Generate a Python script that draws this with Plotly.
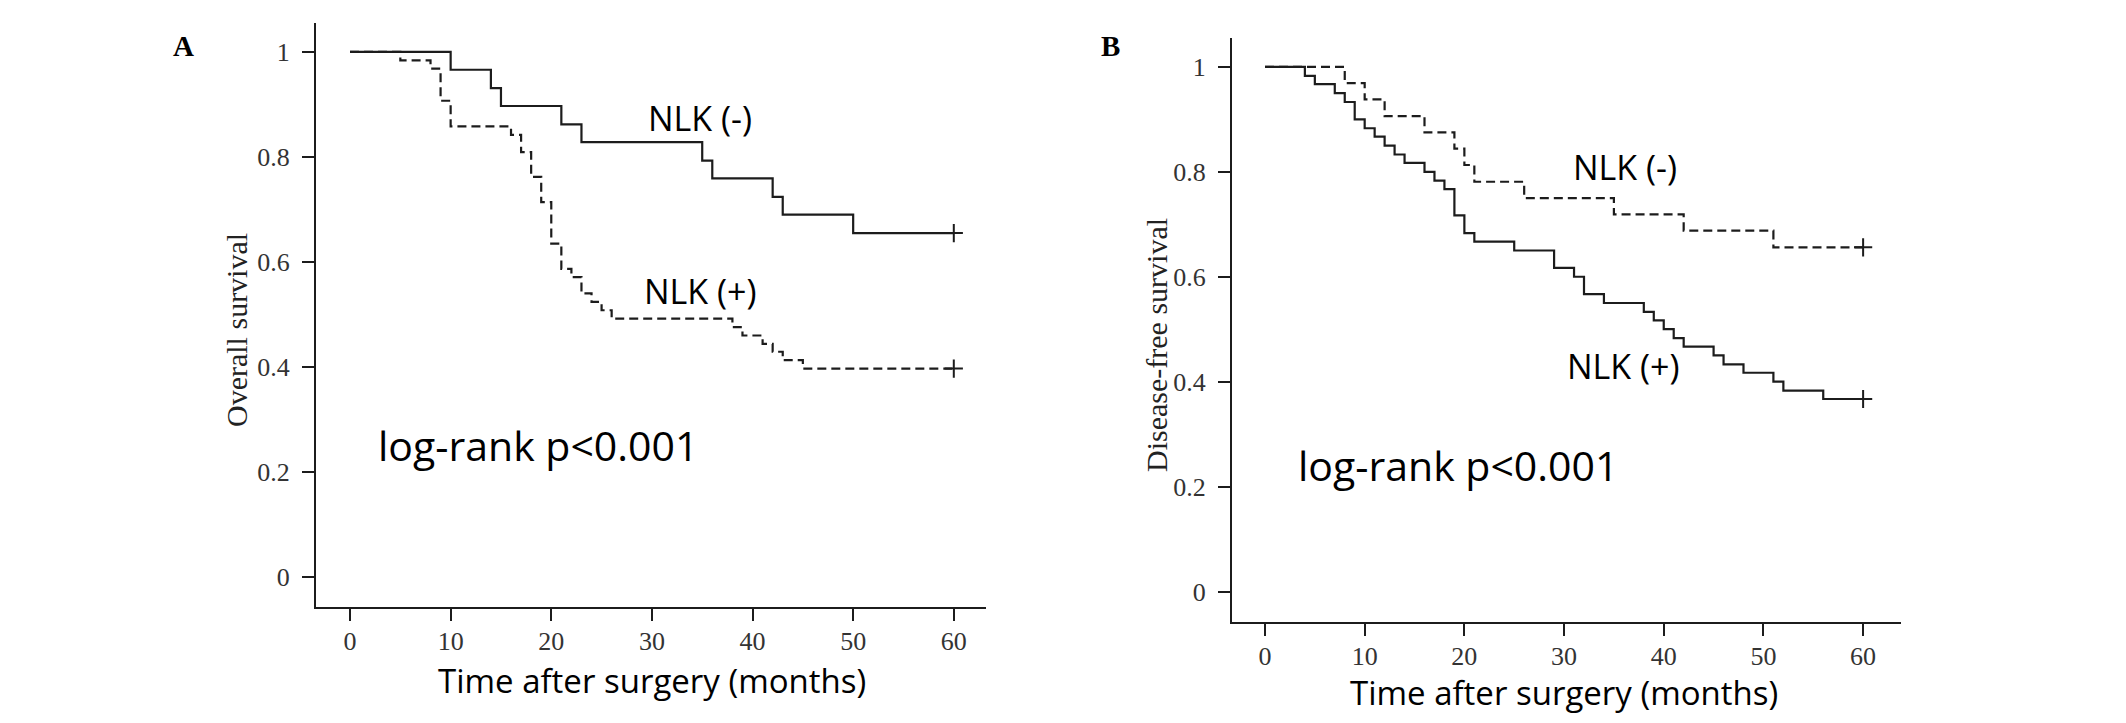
import plotly.graph_objects as go

# Panel A - overall survival (months, survival after each drop)
a_neg_t = [10, 14, 15, 21, 23, 35, 36, 42, 43, 50]
a_neg_s = [0.966, 0.931, 0.897, 0.862, 0.828, 0.793, 0.759, 0.724, 0.690, 0.655]
a_pos_t = [5, 8, 9, 10, 16, 17, 18, 19, 20, 21, 22, 23, 24, 25, 26, 38, 39, 41, 42, 43, 45]
a_pos_s = [0.984, 0.968, 0.907, 0.858, 0.842, 0.809, 0.762, 0.714, 0.635, 0.587, 0.571,
           0.540, 0.524, 0.508, 0.492, 0.476, 0.460, 0.444, 0.429, 0.413, 0.397]

# Panel B - disease-free survival
b_neg_t = [8, 10, 12, 16, 19, 20, 21, 26, 35, 42, 51]
b_neg_s = [0.969, 0.938, 0.906, 0.875, 0.844, 0.813, 0.781, 0.750, 0.719, 0.688, 0.656]
b_pos_t = [4, 5, 7, 8, 9, 10, 11, 12, 13, 14, 16, 17, 18, 19, 20, 21, 25, 29, 31, 32, 34,
           38, 39, 40, 41, 42, 45, 46, 48, 51, 52, 56]
b_pos_s = [0.983, 0.967, 0.950, 0.933, 0.900, 0.883, 0.867, 0.850, 0.833, 0.817, 0.800,
           0.783, 0.767, 0.717, 0.683, 0.667, 0.650, 0.617, 0.600, 0.567, 0.550, 0.533,
           0.517, 0.500, 0.483, 0.467, 0.450, 0.433, 0.417, 0.400, 0.383, 0.367]

follow_up = 60
x_ticks = [0, 10, 20, 30, 40, 50, 60]
y_ticks = [0, 0.2, 0.4, 0.6, 0.8, 1]
y_labels = ["0", "0.2", "0.4", "0.6", "0.8", "1"]

# page body has an 8px margin, so the figure is a bit smaller and everything is offset
OFF = 8
W, H = 2126 - 2 * OFF, 723 - 2 * OFF
INK = "#1c1c1c"
SERIF = "Liberation Serif"
SANS = "Open Sans"


def px(x):
    return (x - OFF) / W


def py(y):
    return 1 - (y - OFF) / H


def km_trace(times, surv, dash, xa, ya):
    xs = [0] + times + [follow_up]
    ys = [1] + surv + [surv[-1]]
    return go.Scatter(x=xs, y=ys, mode="lines", line_shape="hv", xaxis=xa, yaxis=ya,
                      line=dict(color=INK, width=2.2, dash=dash), hoverinfo="skip")


def censor(surv, xa, ya):
    return go.Scatter(x=[follow_up], y=[surv[-1]], mode="markers", xaxis=xa, yaxis=ya,
                      marker=dict(symbol="cross-thin", size=13, line=dict(color=INK, width=2)))


fig = go.Figure()
fig.add_trace(km_trace(a_neg_t, a_neg_s, "solid", "x", "y"))
fig.add_trace(km_trace(a_pos_t, a_pos_s, "9px,5px", "x", "y"))
fig.add_trace(censor(a_neg_s, "x", "y"))
fig.add_trace(censor(a_pos_s, "x", "y"))
fig.add_trace(km_trace(b_neg_t, b_neg_s, "9px,5px", "x2", "y2"))
fig.add_trace(km_trace(b_pos_t, b_pos_s, "solid", "x2", "y2"))
fig.add_trace(censor(b_neg_s, "x2", "y2"))
fig.add_trace(censor(b_pos_s, "x2", "y2"))

axis_common = dict(showline=True, linecolor=INK, linewidth=2, ticks="outside", ticklen=12,
                   tickwidth=1.6, tickcolor=INK, showgrid=False, zeroline=False,
                   tickfont=dict(family=SERIF, size=26, color="#333"))

fig.update_layout(
    width=W, height=H, margin=dict(l=0, r=0, t=0, b=0),
    paper_bgcolor="white", plot_bgcolor="white", showlegend=False,
    xaxis=dict(domain=[px(316), px(986)], range=[-3.38, 63.2], tickvals=x_ticks,
               anchor="y", ticklabelstandoff=-2, **axis_common),
    yaxis=dict(domain=[py(607), py(23)], range=[-0.057, 1.055], tickvals=y_ticks,
               ticktext=y_labels, anchor="x", ticklabelstandoff=7, **axis_common),
    xaxis2=dict(domain=[px(1232), px(1901)], range=[-3.31, 63.8], tickvals=x_ticks,
                anchor="y2", ticklabelstandoff=-2, **axis_common),
    yaxis2=dict(domain=[py(622), py(38)], range=[-0.058, 1.055], tickvals=y_ticks,
                ticktext=y_labels, anchor="x2", ticklabelstandoff=7, **axis_common),
)

notes = [
    # panel letters
    dict(text="<b>A</b>", x=px(183), y=py(46), xref="paper", yref="paper",
         font=dict(family=SERIF, size=29, color="black")),
    dict(text="<b>B</b>", x=px(1110), y=py(46), xref="paper", yref="paper",
         font=dict(family=SERIF, size=29, color="black")),
    # y titles
    dict(text="Overall survival", x=px(236), y=py(330), xref="paper", yref="paper",
         textangle=-90, font=dict(family=SERIF, size=30, color="#222")),
    dict(text="Disease-free survival", x=px(1156), y=py(345), xref="paper", yref="paper",
         textangle=-90, font=dict(family=SERIF, size=30, color="#222")),
    # x titles
    dict(text="Time after surgery (months)", x=px(652), y=py(680), xref="paper", yref="paper",
         font=dict(family=SANS, size=33, color="black")),
    dict(text="Time after surgery (months)", x=px(1564), y=py(692), xref="paper", yref="paper",
         font=dict(family=SANS, size=33, color="black")),
    # curve labels
    dict(text="NLK (-)", x=34.8, y=0.874, xref="x", yref="y",
         font=dict(family=SANS, size=34, color="black")),
    dict(text="NLK (+)", x=34.8, y=0.545, xref="x", yref="y",
         font=dict(family=SANS, size=34, color="black")),
    dict(text="log-rank p<0.001", x=2.6, y=0.251, xref="x", yref="y", xanchor="left",
         font=dict(family=SANS, size=41, color="black")),
    dict(text="NLK (-)", x=36.1, y=0.809, xref="x2", yref="y2",
         font=dict(family=SANS, size=34, color="black")),
    dict(text="NLK (+)", x=36.0, y=0.430, xref="x2", yref="y2",
         font=dict(family=SANS, size=34, color="black")),
    dict(text="log-rank p<0.001", x=3.1, y=0.241, xref="x2", yref="y2", xanchor="left",
         font=dict(family=SANS, size=41, color="black")),
]
for n in notes:
    n.setdefault("showarrow", False)
    n.setdefault("xanchor", "center")
    n.setdefault("yanchor", "middle")
    fig.add_annotation(**n)

fig.write_html("out.html")
